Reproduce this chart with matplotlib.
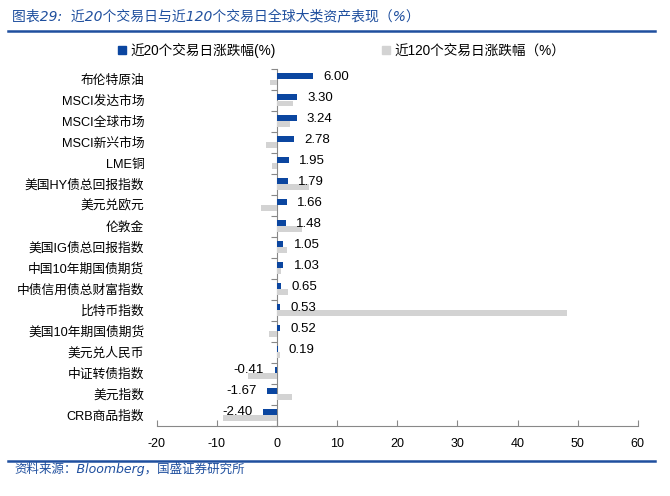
import matplotlib
matplotlib.use("Agg")
import matplotlib.pyplot as plt
import numpy as np
from matplotlib.lines import Line2D

plt.rcParams['font.family'] = ['DejaVu Sans', 'Noto Sans CJK SC']

categories = ["布伦特原油", "MSCI发达市场", "MSCI全球市场", "MSCI新兴市场", "LME铜",
              "美国HY债总回报指数", "美元兑欧元", "伦敦金", "美国IG债总回报指数",
              "中国10年期国债期货", "中债信用债总财富指数", "比特币指数", "美国10年期国债期货",
              "美元兑人民币", "中证转债指数", "美元指数", "CRB商品指数"]
chg20 = [6.00, 3.30, 3.24, 2.78, 1.95, 1.79, 1.66, 1.48, 1.05, 1.03, 0.65, 0.53, 0.52,
         0.19, -0.41, -1.67, -2.40]
chg120 = [-1.1, 2.6, 2.1, -1.9, -0.9, 5.3, -2.6, 4.2, 1.7, 0.7, 1.8, 48.3, -1.4,
          0.5, -4.9, 2.5, -9.0]
xticks = [-20, -10, 0, 10, 20, 30, 40, 50, 60]
label20 = "近20个交易日涨跌幅(%)"
label120 = "近120个交易日涨跌幅（%）"
title = "图表29:  近20个交易日与近120个交易日全球大类资产表现（%）"
source = "资料来源：Bloomberg，国盛证券研究所"

BLUE = "#0B46A0"
GRAY = "#D3D3D3"
TBLUE = "#1F4F9E"
cjk = ['Liberation Sans', 'Noto Sans CJK SC']

fig = plt.figure(figsize=(6.7, 4.96), dpi=100)
ax = fig.add_axes([0.234, 0.142, 0.718, 0.719])

y = np.arange(len(categories))
off = 0.145
h = 0.28
ax.barh(y - off, chg20, height=h, color=BLUE, zorder=3)
ax.barh(y + off, chg120, height=h, color=GRAY, zorder=2)

ax.set_xlim(xticks[0], xticks[-1])
ax.set_ylim(len(categories) - 0.5, -0.5)
ax.set_xticks(xticks)
ax.set_xticklabels([str(t) for t in xticks], fontsize=9, family=cjk)
ax.tick_params(axis='x', direction='in', length=4, color='#888888', pad=9)
ax.set_yticks(y)
ax.set_yticklabels(categories, fontsize=9.2, family=cjk)
ax.tick_params(axis='y', length=0, pad=9)
for s in ['top', 'right', 'left']:
    ax.spines[s].set_visible(False)
ax.spines['bottom'].set_color('#888888')

# zero line axis with ticks at category boundaries
loc = (0 - xticks[0]) / (xticks[-1] - xticks[0])
sec = ax.secondary_yaxis(loc)
sec.set_yticks(np.arange(len(categories) + 1) - 0.5)
sec.set_yticklabels([])
sec.tick_params(axis='y', direction='out', length=4, color='#888888')
sec.spines['left'].set_color('#888888')
for s in ['right', 'top', 'bottom']:
    if s in sec.spines:
        sec.spines[s].set_visible(False)

for yi, v in zip(y, chg20):
    ax.annotate(f"{v:.2f}", (v, yi - off), xytext=(7.5 if v >= 0 else -7.5, -0.3),
                textcoords='offset points', ha='left' if v >= 0 else 'right',
                va='center', fontsize=9.5, family=cjk, zorder=5)

handles = [Line2D([], [], marker='s', linestyle='none', markersize=5.5, color=BLUE),
           Line2D([], [], marker='s', linestyle='none', markersize=5.5, color=GRAY)]
fig.legend(handles, [label20, label120], loc='center', bbox_to_anchor=(0.51, 0.899),
           ncol=2, frameon=False, handlelength=0.6, handletextpad=0.3,
           columnspacing=7.8, prop={'family': cjk, 'size': 9.8})

fig.text(0.018, 0.966, title, fontsize=10, color=TBLUE, style='italic',
         ha='left', va='center', family=['DejaVu Sans', 'Noto Sans CJK SC'])
fig.add_artist(Line2D([0.012, 0.978], [0.937, 0.937], color=TBLUE, lw=1.8))
fig.add_artist(Line2D([0.012, 0.978], [0.071, 0.071], color=TBLUE, lw=1.8))
fig.text(0.022, 0.054, source, fontsize=9, color=TBLUE, style='italic',
         ha='left', va='center', family=['DejaVu Sans', 'Noto Sans CJK SC'])

fig.savefig("out.png", dpi=100)
